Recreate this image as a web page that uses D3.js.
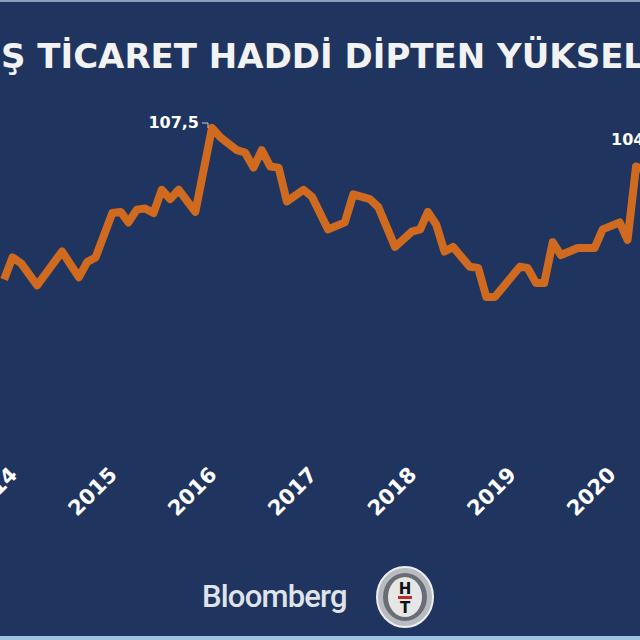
<!DOCTYPE html>
<html><head><meta charset="utf-8">
<script src="https://cdn.jsdelivr.net/npm/d3@7"></script>
<style>body{margin:0;background:#1f3560}svg{display:block}</style>
</head><body>
<script>
const months = ["2013-12","2014-01","2014-02","2014-04","2014-07","2014-09","2014-10","2014-11","2015-01","2015-02","2015-03","2015-04","2015-05","2015-06","2015-07","2015-08","2015-09","2015-11","2016-01","2016-02","2016-04","2016-05","2016-06","2016-07","2016-08","2016-09","2016-10","2016-12","2017-01","2017-03","2017-05","2017-06","2017-08","2017-09","2017-11","2018-01","2018-02","2018-03","2018-04","2018-05","2018-06","2018-08","2018-09","2018-10","2018-11","2019-02","2019-03","2019-04","2019-05","2019-06","2019-07","2019-09","2019-11","2019-12","2020-02","2020-03","2020-04","2020-05"];
const values = [94.5,96.4,95.9,94.0,96.9,94.7,96.0,96.4,100.2,100.3,99.4,100.5,100.6,100.2,102.2,101.4,102.2,100.3,107.5,106.7,105.6,105.4,104.1,105.6,104.2,104.1,101.2,102.2,101.6,98.8,99.4,101.8,101.4,100.7,97.3,98.6,98.8,100.3,99.2,96.9,97.3,95.6,95.5,93.0,93.0,95.6,95.5,94.2,94.2,97.7,96.6,97.2,97.2,98.8,99.4,97.9,104.2,103.9];
const years = ["2014","2015","2016","2017","2018","2019","2020"];
const title = "DIŞ TİCARET HADDİ DİPTEN YÜKSELDİ";
const labels = [{m:"2016-01",v:107.5,t:"107,5"},{m:"2020-04",v:104.2,t:"104,2"}];

const W=640,H=640;
const parse=d3.timeParse("%Y-%m");
const data=months.map((m,i)=>({d:parse(m),v:values[i]}));
const x=d3.scaleTime().domain([parse("2016-01"),parse("2017-01")]).range([212,312]);
const y=d3.scaleLinear().domain([93,107.5]).range([297,128]);
const svg=d3.select("body").append("svg").attr("width",W).attr("height",H);
svg.append("rect").attr("width",W).attr("height",H).attr("fill","#1f3560");
svg.append("rect").attr("width",W).attr("height",2).attr("fill","#8aa0c0");
svg.append("rect").attr("y",636).attr("width",W).attr("height",4).attr("fill","#9cc3e0");

const t=svg.append("text").attr("y",68).attr("font-family","DejaVu Sans").attr("font-weight","bold")
 .attr("font-size",34).attr("fill","#f2f2f2").text(title);
const off=t.node().getSubStringLength(0,2);
t.attr("x",-off+1);

svg.append("path").datum(data).attr("fill","none").attr("stroke","#cf6a1f").attr("stroke-width",8)
 .attr("stroke-linejoin","round").attr("d",d3.line().x(d=>x(d.d)).y(d=>y(d.v)));

const lab=labels[0];
svg.append("path").attr("d",`M${x(parse(lab.m))-10},${y(lab.v)-5}H${x(parse(lab.m))-4}V${y(lab.v)}`)
 .attr("stroke","#ccc").attr("fill","none").attr("stroke-width",1);
svg.append("text").attr("x",x(parse(lab.m))-13).attr("y",y(lab.v)).attr("text-anchor","end")
 .attr("font-family","DejaVu Sans").attr("font-weight","bold").attr("font-size",16).attr("fill","#fff").text(lab.t);
const lab2=labels[1];
svg.append("text").attr("x",611).attr("y",145)
 .attr("font-family","DejaVu Sans").attr("font-weight","bold").attr("font-size",16).attr("fill","#fff").text(lab2.t);

years.forEach(yr=>{
  const px=x(parse(yr+"-01"))+6;
  svg.append("text").attr("transform",`translate(${px},476) rotate(-45)`).attr("text-anchor","end")
   .attr("font-family","DejaVu Sans").attr("font-weight","bold").attr("font-size",21).attr("fill","#fff").text(yr);
});

svg.append("text").attr("x",202).attr("y",607).attr("font-family","Roboto, Liberation Sans").attr("font-weight","500")
 .attr("font-size",31).attr("fill","#dfe3ea").attr("letter-spacing",-0.8).text("Bloomberg");
const g=svg.append("g").attr("transform","translate(405,597)");
g.append("ellipse").attr("rx",28).attr("ry",30).attr("fill","#b8bcc2").attr("stroke","#eee").attr("stroke-width",2);
g.append("ellipse").attr("rx",22).attr("ry",24).attr("fill","#6a6e74");
g.append("ellipse").attr("rx",17).attr("ry",20).attr("fill","#e6e6e6");
g.append("text").attr("y",-3).attr("text-anchor","middle").attr("font-family","DejaVu Sans").attr("font-weight","bold").attr("font-size",15).attr("fill","#111").text("H");
g.append("rect").attr("x",-7).attr("y",-1).attr("width",14).attr("height",3).attr("fill","#c0282d");
g.append("text").attr("y",16).attr("text-anchor","middle").attr("font-family","DejaVu Sans").attr("font-weight","bold").attr("font-size",15).attr("fill","#111").text("T");
</script>
</body></html>
